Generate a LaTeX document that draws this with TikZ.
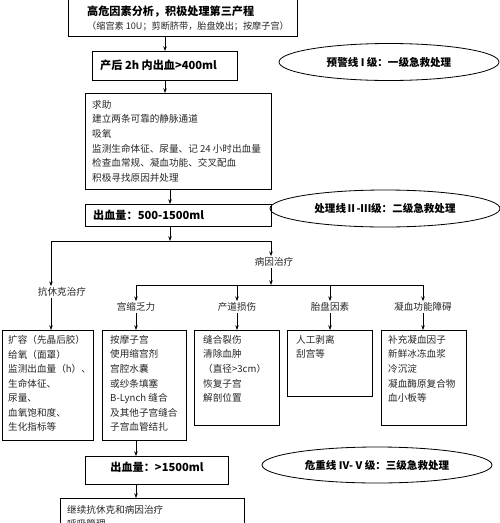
\documentclass[tikz,border=0pt]{standalone}
\usepackage{fontspec}
\setmainfont{Noto Sans CJK SC}
\usetikzlibrary{arrows.meta, positioning, shapes.geometric}
\newlength\pxu
\setlength\pxu{0.03cm}

\begin{document}
\begin{tikzpicture}[x=0.03cm, y=-0.03cm,
  box/.style={draw, line width=0.9pt, rectangle, anchor=north west, inner sep=0pt},
  oval/.style={draw, line width=0.7pt, ellipse, inner sep=0pt, font=\fontsize{9}{11}\selectfont\bfseries},
  body/.style={anchor=north west, align=left, inner sep=0pt, text=black!85, font=\fontsize{8.2}{12.45}\selectfont},
  head/.style={inner sep=0pt, font=\fontsize{9.5}{11}\selectfont\bfseries},
  lbl/.style={inner sep=1pt, text=black!85, font=\fontsize{8.2}{10}\selectfont},
  arr/.style={line width=0.7pt, -{Stealth[length=4pt, width=3pt]}},
  ln/.style={line width=0.7pt}]
  \useasboundingbox (0,0) rectangle (500,523);
  % top box
  \node[box, minimum width=229\pxu, minimum height=38\pxu] (top) at (68,-2) {};
  \node[head, anchor=west] (topt) at (87,12) {高危因素分析，积极处理第三产程};
  \node[lbl, anchor=west, inner sep=0pt, font=\fontsize{7.8}{9}\selectfont] (topn) at (87,26) {（缩宫素 10U；剪断脐带，胎盘娩出；按摩子宫）};
  % first warning
  \node[box, minimum width=145\pxu, minimum height=29\pxu] (pph) at (92,51) {};
  \node[head, anchor=west] (ppht) at (100,65.5) {产后 2h 内出血>400ml};
  \node[oval, minimum width=220\pxu, minimum height=37\pxu] (lv1) at (389,62) {预警线 I 级：一级急救处理};
  \draw[arr] (top.south -| pph.north) -- (pph.north);
  % first measures
  \node[box, minimum width=186\pxu, minimum height=96\pxu] (help) at (85,93) {};
  \node[body] (helpt) at (92,100) {求助\\建立两条可靠的静脉通道\\吸氧\\监测生命体征、尿量、记 24 小时出血量\\检查血常规、凝血功能、交叉配血\\积极寻找原因并处理};
  \draw[arr] (pph.south) -- (pph.south |- help.north);
  % second line
  \node[box, minimum width=186\pxu, minimum height=22\pxu] (mid) at (85,204) {};
  \node[head, anchor=west] (midt) at (93,215) {出血量：500-1500ml};
  \node[oval, minimum width=230\pxu, minimum height=37\pxu] (lv2) at (385,208.5) {处理线Ⅱ-Ⅲ级：二级急救处理};
  \coordinate (sp1) at (170,241);
  \draw[arr] (help.south -| sp1) -- (mid.north -| sp1);
  % split
  \coordinate (spL) at (51,241);
  \coordinate (spR) at (271,241);
  \draw[arr] (mid.south -| sp1) -- (sp1);
  \draw[ln] (spL) -- (spR);
  \node[lbl] (shock) at (62,292) {抗休克治疗};
  \node[lbl] (cause) at (274,262) {病因治疗};
  \draw[arr] (spL) -- (spL |- shock.north);
  \draw[arr] (spR) -- (spR |- cause.north);
  \coordinate (sp2) at (271,285);
  \coordinate (bA) at (136,285);
  \coordinate (bD) at (423,285);
  \draw[arr] (cause.south -| sp2) -- (sp2);
  \draw[ln] (bA) -- (bD);
  \node[lbl] (uter) at (136,307) {宫缩乏力};
  \node[lbl] (tear) at (237,307) {产道损伤};
  \node[lbl] (plac) at (330,307) {胎盘因素};
  \node[lbl] (coag) at (423,307) {凝血功能障碍};
  % boxes of the causes
  \node[box, minimum width=91\pxu, minimum height=110\pxu] (b1) at (2,330) {};
  \node[box, minimum width=84\pxu, minimum height=110\pxu] (b2) at (102,330) {};
  \node[box, minimum width=85\pxu, minimum height=95\pxu] (b3) at (194,330) {};
  \node[box, minimum width=85\pxu, minimum height=66\pxu] (b4) at (287,330) {};
  \node[box, minimum width=85\pxu, minimum height=95\pxu] (b5) at (381,330) {};
  \foreach \l/\b in {uter/b2, tear/b3, plac/b4, coag/b5} {
    \draw[arr] (\l |- bA) -- (\l.north);
    \draw[arr] (\l.south) -- (\l.south |- \b.north);
  }
  \draw[arr] (shock.south -| spL) -- (spL |- b1.north);
  \node[body] (b1t) at (8,335) {扩容（先晶后胶）\\给氧（面罩）\\监测出血量（h）、\\生命体征、\\尿量、\\血氧饱和度、\\生化指标等};
  \node[body] (b2t) at (110,335) {按摩子宫\\使用缩宫剂\\宫腔水囊\\或纱条填塞\\B-Lynch 缝合\\及其他子宫缝合\\子宫血管结扎};
  \node[body] (b3t) at (203,335) {缝合裂伤\\清除血肿\\（直径>3cm）\\恢复子宫\\解剖位置};
  \node[body] (b4t) at (296,335) {人工剥离\\刮宫等};
  \node[body] (b5t) at (388,335) {补充凝血因子\\新鲜冰冻血浆\\冷沉淀\\凝血酶原复合物\\血小板等};
  % third line
  \node[box, minimum width=143\pxu, minimum height=28\pxu] (big) at (85,456) {};
  \node[head] (bigt) at (157,467) {出血量：>1500ml};
  \node[oval, minimum width=230\pxu, minimum height=36\pxu] (lv3) at (377,465) {危重线 IV- V 级：三级急救处理};
  \draw[arr] (bA |- b2.south) -- (bA |- big.north);
  \node[box, minimum width=184\pxu, minimum height=45\pxu] (cont) at (60,498) {};
  \node[body] (contt) at (67,505) {继续抗休克和病因治疗\\呼吸管理};
  \draw[arr] (bA |- big.south) -- (bA |- cont.north);
\end{tikzpicture}
\end{document}
